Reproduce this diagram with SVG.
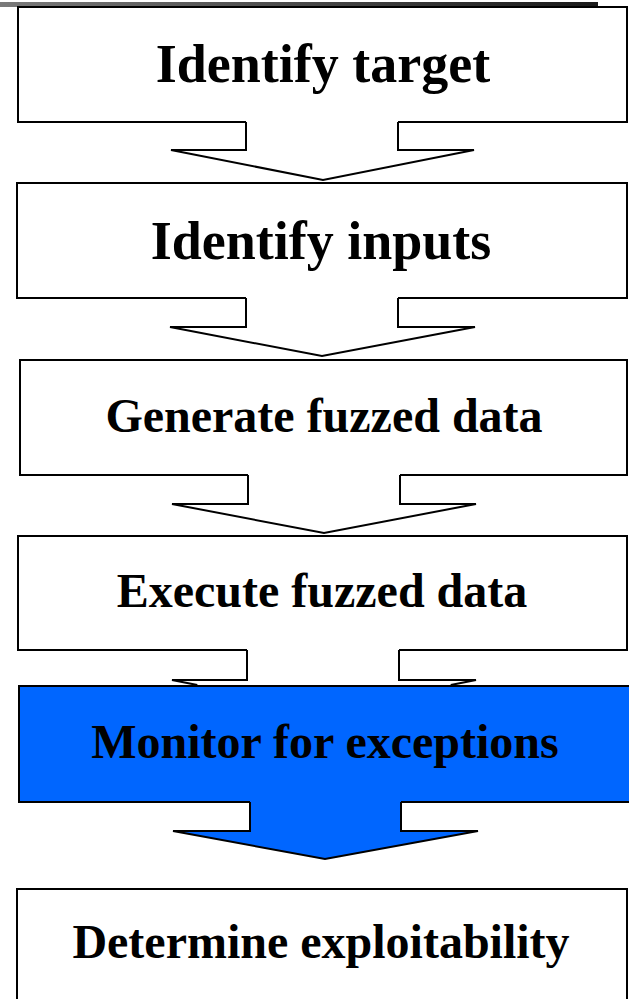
<svg xmlns="http://www.w3.org/2000/svg" width="629" height="999" viewBox="0 0 629 999">
<defs>
<linearGradient id="bar" x1="0" y1="0" x2="1" y2="0">
<stop offset="0" stop-color="#7a7a7a"/>
<stop offset="1" stop-color="#1a1a1a"/>
</linearGradient>
</defs>
<style>
.node{fill:#ffffff;stroke:#000000;stroke-width:2;stroke-linejoin:miter}
.hl{fill:#0066ff}
.conn{fill:none;stroke:#000000;stroke-width:2;stroke-linejoin:miter}
.conn.hl{fill:#0066ff}
text{font-family:"Liberation Serif","Times New Roman",serif;font-weight:bold;fill:#000000;text-anchor:middle}
.big{font-size:54px}
.mid{font-size:48px}
</style>
<rect x="0" y="2" width="598" height="5" fill="url(#bar)"/>
<g id="node-identify-target">
<path class="node" d="M246,122 H18 V7 H627 V122 H398"/>
<text class="big" x="323" y="82">Identify target</text>
</g>
<g id="node-identify-inputs">
<path class="node" d="M246,298 H17 V183 H627 V298 H398"/>
<text class="big" x="321" y="259">Identify inputs</text>
</g>
<g id="node-generate">
<path class="node" d="M248,475 H20 V360 H627 V475 H400"/>
<text class="mid" x="324" y="432">Generate fuzzed data</text>
</g>
<g id="node-execute">
<path class="node" d="M247,650 H18 V536 H627 V650 H399"/>
<text class="mid" x="322" y="607">Execute fuzzed data</text>
</g>
<g id="node-monitor">
<path class="node hl" d="M250,802 H19 V686 H635 V802 H401"/>
<text class="mid" x="325" y="758">Monitor for exceptions</text>
</g>
<g id="node-determine">
<path class="node" d="M17,1005 V889 H627 V1005"/>
<text class="mid" x="321" y="958">Determine exploitability</text>
</g>
<g id="connectors">
<path class="conn" d="M246,122 V150 H171 L323,180 L474,150 H398 V122"/>
<path class="conn" d="M246,298 V327 H170 L322,356 L475,327 H398 V298"/>
<path class="conn" d="M248,475 V504 H172 L324,533 L476,504 H400 V475"/>
<path class="conn" d="M247,650 V680 H172 L197.3,685 M450.7,685 L476,680 H399 V650"/>
<path class="conn hl" d="M250,802 V831 H173 L325,859 L478,831 H401 V802"/>
</g>
</svg>
